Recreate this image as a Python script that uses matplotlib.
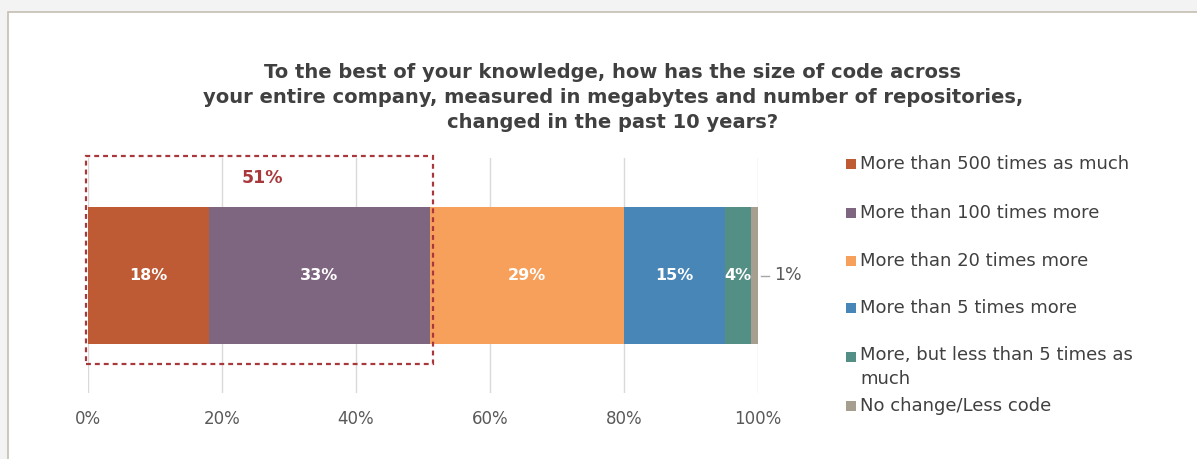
import numpy as np
import matplotlib
matplotlib.use('Agg')
import matplotlib.pyplot as plt
from matplotlib.patches import Rectangle

plt.rcParams['font.family'] = ['DejaVu Sans']

# data
categories = ['More than 500 times as much',
              'More than 100 times more',
              'More than 20 times more',
              'More than 5 times more',
              'More, but less than 5 times as\nmuch',
              'No change/Less code']
values = [18, 33, 29, 15, 4, 1]
colors = ['#BE5B34', '#7F6680', '#F7A05B', '#4886B8', '#538F84', '#A69E8E']
highlight_label = '51%'
title = ('To the best of your knowledge, how has the size of code across\n'
         'your entire company, measured in megabytes and number of repositories,\n'
         'changed in the past 10 years?')

W, H = 1197, 459
fig = plt.figure(figsize=(W / 100, H / 100), dpi=100, facecolor='#F3F3F3')

# chart frame
fig.patches.append(Rectangle((8 / W, -0.1), 1.2, (H - 12) / H + 0.1, transform=fig.transFigure,
                             facecolor='white', edgecolor='#C4BFB3', lw=1.2, zorder=-5))

ax = fig.add_axes([88 / W, 1 - 393 / H, 670 / W, 235 / H])
ax.set_facecolor('none')

fracs = np.array(values) / 100
lefts = np.concatenate([[0], np.cumsum(fracs)[:-1]])
bar_h = 0.583
ax.barh(0, fracs, left=lefts, height=bar_h, color=colors, zorder=3)

for v, l, f in zip(values, lefts, fracs):
    if v >= 4:
        ax.text(l + f / 2, 0, f'{v}%', color='white', fontsize=11.5, fontweight='bold',
                ha='center', va='center', zorder=4)
    else:
        ax.plot([l + f + 0.004, l + f + 0.016], [0, 0], color='#A6A6A6', lw=1, clip_on=False)
        ax.text(l + f + 0.024, 0, f'{v}%', color='#595959', fontsize=12.5,
                ha='left', va='center')

# dashed box around first two segments
x_end = lefts[2]
ax.add_patch(Rectangle((-0.003, -0.377), x_end + 0.008, 0.886, fill=False,
                       edgecolor='#A8383B', lw=1.6, ls=(0, (2.2, 1.8)), clip_on=False, zorder=5))
ax.text(0.26, 0.415, highlight_label, color='#A8383B', fontsize=12.5, fontweight='bold',
        ha='center', va='center')

ax.set_xlim(0, 1)
ax.set_ylim(-0.5, 0.5)
ax.set_xticks(np.linspace(0, 1, 6))
ax.set_xticklabels([f'{int(t * 100)}%' for t in np.linspace(0, 1, 6)])
ax.set_yticks([])
ax.grid(axis='x', color='#D9D9D9', lw=1, zorder=0)
ax.tick_params(axis='x', length=0, labelsize=12, labelcolor='#595959', pad=12)
for s in ax.spines.values():
    s.set_visible(False)

fig.text(613 / W, 1 - 97 / H, title, ha='center', va='center', fontsize=14,
         fontweight='bold', color='#404040', linespacing=1.4)

# legend
rows = [164, 213, 261, 308, 357, 406]
for lab, c, yp in zip(categories, colors, rows):
    fig.patches.append(Rectangle((846 / W, 1 - (yp + 5) / H), 10 / W, 10 / H,
                                 transform=fig.transFigure, facecolor=c, edgecolor='none'))
    two_line = '\n' in lab
    y_txt = 1 - (yp - 11) / H if two_line else 1 - yp / H
    fig.text(860 / W, y_txt, lab, ha='left', va='top' if two_line else 'center',
             fontsize=13, color='#404040', linespacing=1.45)

fig.savefig('out.png', dpi=100, facecolor=fig.get_facecolor())
